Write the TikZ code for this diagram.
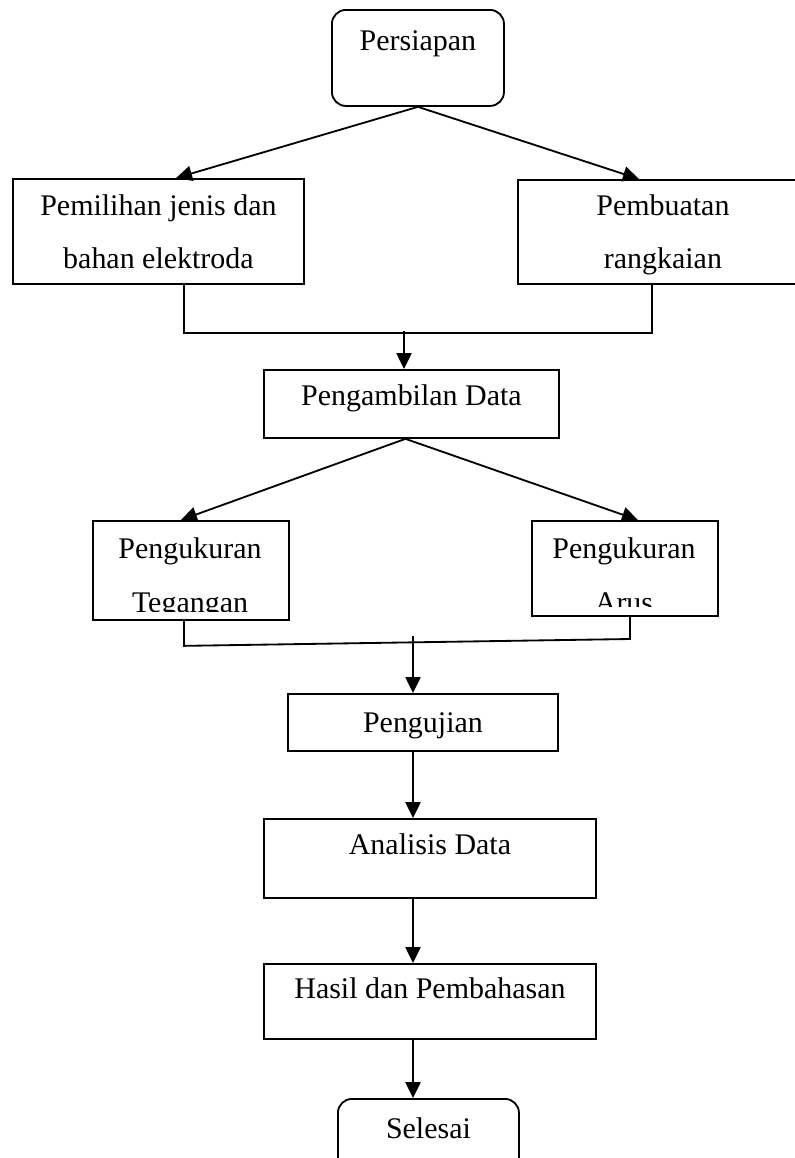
\documentclass[tikz,border=0pt]{standalone}
\usepackage{fontspec}
\setmainfont{Liberation Serif}
\usetikzlibrary{arrows.meta}
\tikzstyle{box} = [rectangle, draw=black, line width=1.3pt, anchor=north west, inner sep=0pt, align=center, font=\fontsize{21.3}{37.7}\selectfont]
\tikzstyle{term} = [box, rounded corners=0.35cm]
\tikzstyle{txt} = [inner sep=0pt, align=center, anchor=base, font=\fontsize{21.3}{37.7}\selectfont]
\tikzstyle{line} = [draw=black, line width=1.3pt]
\tikzstyle{arr} = [line, -{Triangle[length=0.4cm, width=0.38cm]}]

\begin{document}
\begin{tikzpicture}[x=0.025cm, y=-0.025cm]%
	\useasboundingbox (0,0) rectangle (795,1158);%
	% boxes
	\node[term, minimum width=4.3cm, text height=1.025cm, text depth=1.375cm] (persiapan) at (331,9) {Persiapan};%
	\node[box, minimum width=7.275cm, text height=2.25cm, text depth=0.375cm] (pemilihan) at (12,178) {Pemilihan jenis dan\\bahan elektroda};%
	\node[box, minimum width=7.25cm, text height=2.225cm, text depth=0.375cm] (pembuatan) at (517,179) {Pembuatan\\rangkaian};%
	\node[box, minimum width=7.375cm, text height=0.9cm, text depth=0.8cm] (ambil) at (263,369) {Pengambilan Data};%
	\node[box, minimum width=4.9cm, minimum height=2.475cm] (ukurV) at (92,520) {};%
	\node[box, minimum width=4.65cm, minimum height=2.375cm] (ukurI) at (531,520) {};%
	\node[box, minimum width=6.75cm, text height=0.975cm, text depth=0.45cm] (uji) at (287,693) {Pengujian};%
	\node[box, minimum width=8.3cm, text height=0.9cm, text depth=1.075cm] (analisis) at (263,818) {Analisis Data};%
	\node[box, minimum width=8.3cm, text height=0.875cm, text depth=1.0cm] (hasil) at (263,963) {Hasil dan Pembahasan};%
	\node[term, minimum width=4.525cm, text height=1.0cm, text depth=1.05cm] (selesai) at (337,1098) {Selesai};%
	% clipped texts
	\begin{scope}%
		\clip (ukurV.north west) rectangle ([yshift=0.225cm]ukurV.south east);%
		\node[txt] (ukurVt) at (190,612) {Pengukuran\\Tegangan};%
	\end{scope}%
	\begin{scope}%
		\clip (ukurI.north west) rectangle ([yshift=0.25cm]ukurI.south east);%
		\node[txt] (ukurIt) at (624,612) {Pengukuran\\Arus};%
	\end{scope}%
	% connectors
	\draw[arr] (persiapan.south) -- ([xshift=0.44cm]pemilihan.north);%
	\draw[arr] (persiapan.south) -- ([xshift=-0.6cm]pembuatan.north);%
	\coordinate (join1) at (404,331);%
	\draw[line] ([xshift=0.64cm]pemilihan.south) -- ++(0,48) -| ([xshift=-0.275cm]pembuatan.south);%
	\draw[arr] (join1) -- (join1 |- ambil.north);%
	\coordinate (split2) at ([xshift=-0.15cm]ambil.south);%
	\draw[arr] (split2) -- ([xshift=-0.25cm]ukurV.north);%
	\draw[arr] (split2) -- ([xshift=0.325cm]ukurI.north);%
	\coordinate (join2r) at (630,639);%
	\coordinate (join2) at (413,636);%
	\draw[line] ([xshift=-0.175cm]ukurV.south) -- ++(0,25) -- (join2r) -- (join2r |- ukurI.south);%
	\draw[arr] (join2) -- (join2 |- uji.north);%
	\draw[arr] (join2 |- uji.south) -- (join2 |- analisis.north);%
	\draw[arr] (join2 |- analisis.south) -- (join2 |- hasil.north);%
	\draw[arr] (join2 |- hasil.south) -- (join2 |- selesai.north);%
\end{tikzpicture}
\end{document}
